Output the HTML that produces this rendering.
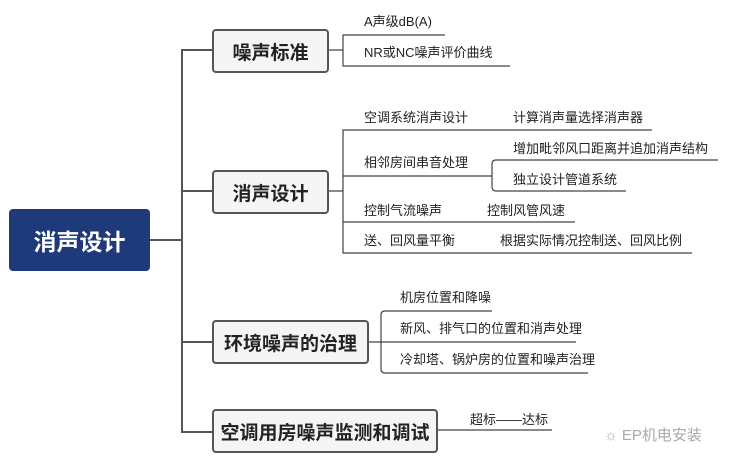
<!DOCTYPE html>
<html><head><meta charset="utf-8"><style>
body{margin:0;background:#fff;width:751px;height:471px;overflow:hidden;position:relative;font-family:"Liberation Sans","Noto Sans CJK SC",sans-serif;}
.b{position:absolute;box-sizing:border-box;border:2px solid #555;border-radius:4px;background:#f5f5f5;font-weight:bold;font-size:19px;color:#222;display:flex;align-items:center;justify-content:center;}
.t{position:absolute;font-size:13px;color:#222;white-space:nowrap;line-height:16px;}
svg{position:absolute;left:0;top:0;}
</style></head><body>
<svg width="751" height="471" fill="none" stroke="#555" stroke-width="2">
<path d="M150 240H182M190 50H182V432H212M182 50H212M182 191H212M182 342H212"/>
<g stroke-width="1.2" stroke="#444">
<path d="M328 50H343M351 35H343V66H351M343 35H445M343 66H510"/>
<path d="M328 191H343M351 130H343V253H351M343 130H652M343 176H492M343 222H575M343 253H692"/>
<path d="M492 176V187Q492 191 496 191H626M492 176V164Q492 160 496 160H718"/>
<path d="M368 342H381M381 315Q381 311 385 311H492M381 315V369Q381 373 385 373H588M381 342H576"/>
<path d="M437 430H552"/>
</g>
</svg>
<div class="b" style="left:9px;top:209px;width:141px;height:62px;background:#1e3a7b;border:none;color:#fff;font-size:23px;">消声设计</div>
<div class="b" style="left:212px;top:29px;width:117px;height:44px;">噪声标准</div>
<div class="b" style="left:212px;top:170px;width:117px;height:44px;">消声设计</div>
<div class="b" style="left:212px;top:320px;width:157px;height:44px;">环境噪声的治理</div>
<div class="b" style="left:212px;top:409px;width:226px;height:44px;">空调用房噪声监测和调试</div>
<div class="t" style="left:364px;top:14px">A声级dB(A)</div>
<div class="t" style="left:364px;top:45px">NR或NC噪声评价曲线</div>
<div class="t" style="left:364px;top:110px">空调系统消声设计</div>
<div class="t" style="left:513px;top:110px">计算消声量选择消声器</div>
<div class="t" style="left:364px;top:155px">相邻房间串音处理</div>
<div class="t" style="left:513px;top:141px">增加毗邻风口距离并追加消声结构</div>
<div class="t" style="left:513px;top:172px">独立设计管道系统</div>
<div class="t" style="left:364px;top:203px">控制气流噪声</div>
<div class="t" style="left:487px;top:203px">控制风管风速</div>
<div class="t" style="left:364px;top:233px">送、回风量平衡</div>
<div class="t" style="left:500px;top:233px">根据实际情况控制送、回风比例</div>
<div class="t" style="left:400px;top:290px">机房位置和降噪</div>
<div class="t" style="left:400px;top:321px">新风、排气口的位置和消声处理</div>
<div class="t" style="left:400px;top:352px">冷却塔、锅炉房的位置和噪声治理</div>
<div class="t" style="left:470px;top:412px">超标——达标</div>
<div class="t" style="left:604px;top:428px;color:#aaa;font-size:15px">☼ EP机电安装</div>
</body></html>
